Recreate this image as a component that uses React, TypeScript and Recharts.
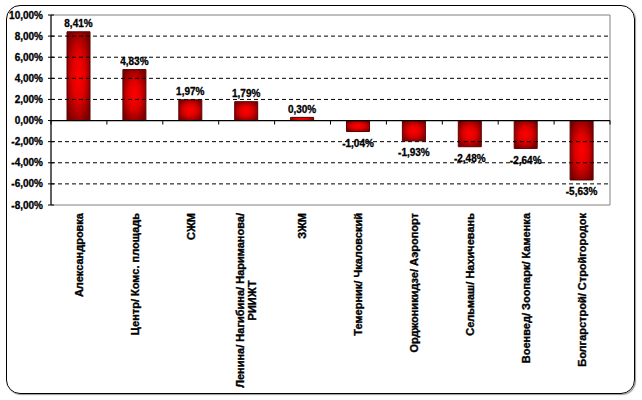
import React from "react";
import { BarChart, Bar, XAxis, YAxis, ReferenceLine, ReferenceArea, LabelList } from "recharts";

const categories: string[][] = [
  ["Александровка"],
  ["Центр/ Комс. площадь"],
  ["СЖМ"],
  ["Ленина/ Нагибина/ Нариманова/", "РИИЖТ"],
  ["ЗЖМ"],
  ["Темерник/ Чкаловский"],
  ["Орджоникидзе/ Аэропорт"],
  ["Сельмаш/ Нахичевань"],
  ["Военвед/ Зоопарк/ Каменка"],
  ["Болгарстрой/ Стройгородок"],
];
const values: number[] = [8.41, 4.83, 1.97, 1.79, 0.3, -1.04, -1.93, -2.48, -2.64, -5.63];
const yTicks: number[] = [-8, -6, -4, -2, 0, 2, 4, 6, 8, 10];
const gridValues: number[] = [-6, -4, -2, 2, 4, 6, 8];

const data = categories.map((c, i) => ({ name: c.join("\n"), value: values[i] }));

const FONT = "'Liberation Sans', Arial, sans-serif";
const fmt = (v: number) => v.toFixed(2).replace(".", ",") + "%";
const XFS = 11;

let measureCtx: CanvasRenderingContext2D | null = null;
function textWidth(t: string): number {
  if (typeof document === "undefined") return t.length * 6;
  if (!measureCtx) measureCtx = document.createElement("canvas").getContext("2d");
  if (!measureCtx) return t.length * 6;
  measureCtx.font = `bold ${XFS}px Liberation Sans, Arial, sans-serif`;
  return measureCtx.measureText(t).width;
}

const XTick = (props: any) => {
  const { x, payload } = props;
  const lines: string[] = String(payload.value).split("\n");
  const top = 213;
  const maxW = Math.max(...lines.map(textWidth));
  const lh = 12;
  const n = lines.length;
  return (
    <g>
      {lines.map((ln, i) => {
        const lx = x + (i - (n - 1) / 2) * lh;
        const cy = top + maxW / 2;
        return (
          <text
            key={i}
            x={lx}
            y={cy}
            transform={`rotate(-90, ${lx}, ${cy})`}
            textAnchor="middle"
            dy="0.35em"
            fontFamily={FONT}
            fontWeight="bold"
            fontSize={XFS}
            fill="#000"
            stroke="#000"
            strokeWidth={0.35}
          >
            {ln}
          </text>
        );
      })}
    </g>
  );
};

const YTick = (props: any) => {
  const { x, y, payload } = props;
  return (
    <g>
      <line x1={x - 3} x2={x + 3} y1={y} y2={y} stroke="#000" />
      <text
        x={x - 8}
        y={y}
        dy="0.35em"
        textAnchor="end"
        fontFamily={FONT}
        fontWeight="bold"
        fontSize={10}
        fill="#000"
        stroke="#000"
        strokeWidth={0.3}
      >
        {fmt(payload.value)}
      </text>
    </g>
  );
};

const ValueLabel = (props: any) => {
  const { x, y, width, height, value } = props;
  const cx = x + width / 2;
  const neg = value < 0;
  const top = Math.min(y, y + height);
  const bottom = Math.max(y, y + height);
  const yy = neg ? bottom + 12 : top - 8;
  return (
    <text
      x={cx}
      y={yy}
      dy="0.35em"
      textAnchor="middle"
      fontFamily={FONT}
      fontWeight="bold"
      fontSize={10}
      fill="#000"
      stroke="#000"
      strokeWidth={0.3}
    >
      {fmt(value)}
    </text>
  );
};

const ZeroLine = (props: any) => {
  const { x1, x2, y1 } = props;
  const n = categories.length;
  const step = (x2 - x1) / n;
  const ticks = [];
  for (let i = 0; i <= n; i++) {
    ticks.push(<line key={i} x1={x1 + i * step} x2={x1 + i * step} y1={y1} y2={y1 + 4} stroke="#000" />);
  }
  return (
    <g>
      <line x1={x1} x2={x2} y1={y1} y2={y1} stroke="#000" strokeWidth={1.3} />
      {ticks}
    </g>
  );
};

export default function App() {
  return (
    <div style={{ position: "absolute", left: 0, top: 0, width: 642, height: 400, background: "#fff" }}>
      <div
        style={{
          position: "absolute",
          left: 6,
          top: 5,
          width: 627,
          height: 387,
          border: "1px solid #000",
          borderRadius: 14,
          boxShadow: "1px 1px 1px rgba(0,0,0,0.4)",
        }}
      />
      <div style={{ position: "absolute", left: 0, top: 0 }}>
        <BarChart
          width={642}
          height={400}
          data={data}
          margin={{ top: 15, right: 32, left: 0, bottom: 5 }}
          barSize={23}
        >
          <defs>
            <radialGradient id="barGrad" cx="50%" cy="50%" r="60%">
              <stop offset="0%" stopColor="#ff0000" />
              <stop offset="45%" stopColor="#e00000" />
              <stop offset="100%" stopColor="#7a0000" />
            </radialGradient>
          </defs>
          <ReferenceArea y1={-8} y2={10} fill="none" stroke="#808080" strokeWidth={1} ifOverflow="extendDomain" />
          {gridValues.map((g) => (
            <ReferenceLine key={g} y={g} stroke="#000" strokeDasharray="4 3" />
          ))}
          <XAxis
            dataKey="name"
            height={190}
            axisLine={false}
            tickLine={false}
            tick={<XTick />}
            interval={0}
          />
          <YAxis
            width={51}
            domain={[-8, 10]}
            ticks={yTicks}
            tick={<YTick />}
            tickLine={false}
            tickSize={0}
            tickMargin={0}
            axisLine={{ stroke: "#000" }}
            interval={0}
          />
          <Bar dataKey="value" fill="url(#barGrad)" stroke="#5a0000" strokeWidth={1} isAnimationActive={false}>
            <LabelList dataKey="value" content={<ValueLabel />} />
          </Bar>
          <ReferenceLine y={0} shape={<ZeroLine />} />
        </BarChart>
      </div>
    </div>
  );
}
